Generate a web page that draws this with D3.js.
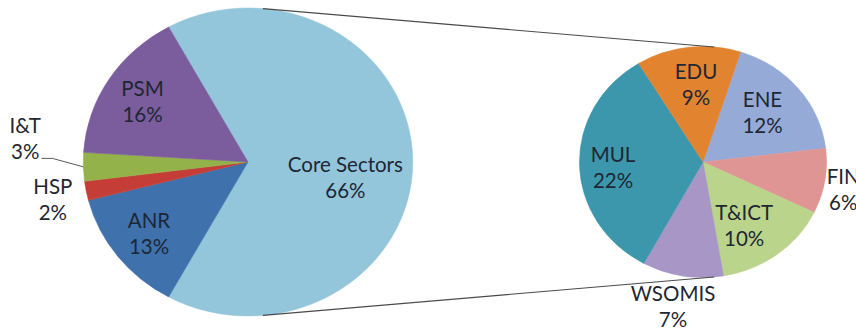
<!DOCTYPE html>
<html>
<head>
<meta charset="utf-8">
<script src="https://cdn.jsdelivr.net/npm/d3@7"></script>
<style>
  html, body { margin: 0; padding: 0; background: #ffffff; }
  svg { display: block; }
  text { font-family: Lato, "Open Sans", sans-serif; fill: #1e2733; }
</style>
</head>
<body>
<svg id="chart" width="856" height="329"></svg>
<script>
// Budget shares: the primary pie, with "Core Sectors" broken out in the secondary pie
const primaryLabels = ["Core Sectors", "ANR", "HSP", "I&T", "PSM"];
const primaryValues = [66, 13, 2, 3, 16];
const primaryColors = ["#93c6da", "#3f71ad", "#c43e37", "#93b24a", "#7b5c9c"];

const secondaryLabels = ["ENE", "FIN", "T&ICT", "WSOMIS", "MUL", "EDU"];
const secondaryValues = [12, 6, 10, 7, 22, 9];
const secondaryColors = ["#95aad7", "#df9594", "#bad48b", "#a896c7", "#3c97ad", "#e2832f"];

// Layout
const W = 856, H = 329;
const sx = 1.07;                      // horizontal stretch of both pies
const P = { cx: 248, cy: 162, r: 154 };
const S = { cx: 703, cy: 162, r: 115.5 };
const secondaryStartDeg = 17.7;

// Label placement: radius as a fraction of the pie radius, angle nudge from slice middle (deg)
const labelPlacement = {
  "Core Sectors": { r: 0.6, da: 10 },
  "ANR": { r: 0.76, da: 0 },
  "HSP": { r: 1.21, da: -1 },
  "I&T": { r: 1.36, da: 8, leader: true },
  "PSM": { r: 0.75, da: -1 },
  "ENE": { r: 0.64, da: -1.6 },
  "FIN": { r: 1.16, da: 2.4 },
  "T&ICT": { r: 0.65, da: 6 },
  "WSOMIS": { r: 1.28, da: 1.4 },
  "MUL": { r: 0.73, da: -2.7 },
  "EDU": { r: 0.67, da: 2 }
};

const svg = d3.select("#chart");
const deg = Math.PI / 180;
const fmtPct = v => d3.format(".0f")(v) + "%";
const total = d3.sum(primaryValues);

// Primary pie: the broken-out slice is centred on the right-hand side
const coreShare = primaryValues[0] / total;
const pStart = Math.PI / 2 - coreShare * Math.PI;
const primaryPie = d3.pie().sort(null).value(d => d.value)
  .startAngle(pStart).endAngle(pStart + 2 * Math.PI);
const primaryData = primaryPie(primaryLabels.map((l, i) => ({ label: l, value: primaryValues[i], color: primaryColors[i] })));

const sStart = secondaryStartDeg * deg;
const secondaryPie = d3.pie().sort(null).value(d => d.value)
  .startAngle(sStart).endAngle(sStart + 2 * Math.PI);
const secondaryData = secondaryPie(secondaryLabels.map((l, i) => ({ label: l, value: secondaryValues[i], color: secondaryColors[i] })));

function drawPie(data, pie) {
  const arc = d3.arc().innerRadius(0).outerRadius(pie.r);
  const g = svg.append("g").attr("transform", `translate(${pie.cx},${pie.cy}) scale(${sx},1)`);
  g.selectAll("path").data(data).join("path")
    .attr("d", arc)
    .attr("fill", d => d.data.color)
    .attr("stroke", d => d.data.color)
    .attr("stroke-width", 0.5);
}

// Connector lines: outer common tangents of the two pies (computed in unstretched space)
function connectors() {
  const x1 = P.cx / sx, x2 = S.cx / sx;
  const d = x2 - x1;
  const s = (P.r - S.r) / d, c = Math.sqrt(1 - s * s);
  const pt = (pie, sign) => [pie.cx + sx * pie.r * s, pie.cy + sign * pie.r * c];
  [-1, 1].forEach(sign => {
    const a = pt(P, sign), b = pt(S, sign);
    svg.append("line")
      .attr("x1", a[0]).attr("y1", a[1]).attr("x2", b[0]).attr("y2", b[1])
      .attr("stroke", "#4a4a4a").attr("stroke-width", 1.1);
  });
}

function polar(pie, angle, rf) {
  return [pie.cx + sx * pie.r * rf * Math.sin(angle), pie.cy - pie.r * rf * Math.cos(angle)];
}

function drawLabels(data, pie) {
  data.forEach(d => {
    const place = labelPlacement[d.data.label];
    const mid = (d.startAngle + d.endAngle) / 2;
    const [x, y] = polar(pie, mid + place.da * deg, place.r);
    const pct = 100 * d.data.value / total;
    const t = svg.append("text")
      .attr("text-anchor", "middle")
      .attr("font-size", 20.5);
    t.append("tspan").attr("x", x).attr("y", y - 6).text(d.data.label);
    const second = t.append("tspan").attr("x", x).attr("y", y + 20).text(fmtPct(pct));
    if (place.leader) {
      const w = second.node().getComputedTextLength();
      const ly = y + 19;
      const edge = polar(pie, mid, 1);
      svg.append("polyline")
        .attr("points", [[x + w / 2 + 2, ly], [x + w / 2 + 13, ly], edge].map(p => p.join(",")).join(" "))
        .attr("fill", "none").attr("stroke", "#5a5a5a").attr("stroke-width", 1);
    }
  });
}

drawPie(primaryData, P);
drawPie(secondaryData, S);
connectors();
drawLabels(primaryData, P);
drawLabels(secondaryData, S);
</script>
</body>
</html>
